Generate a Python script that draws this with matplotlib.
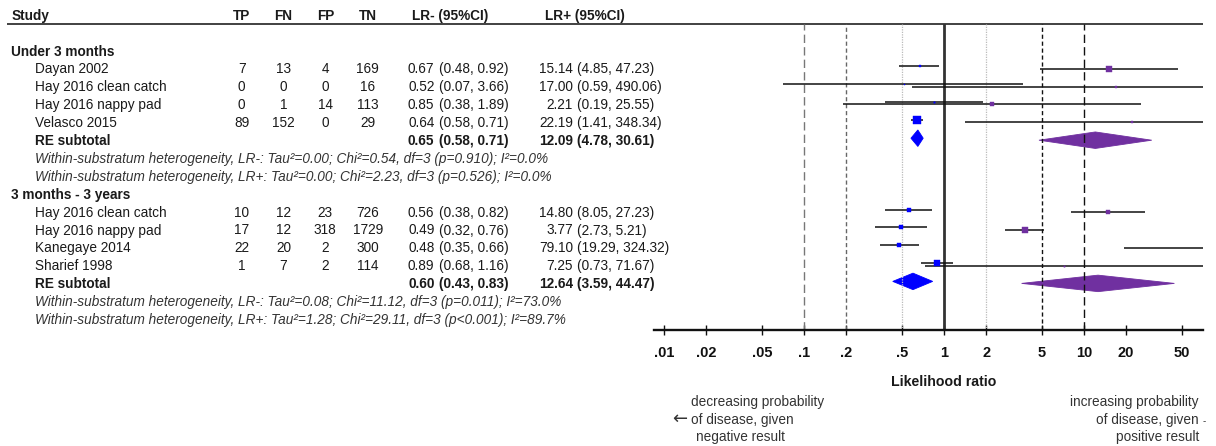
import numpy as np
import matplotlib
matplotlib.use("Agg")
import matplotlib.pyplot as plt
from matplotlib.patches import Polygon

plt.rcParams['font.family'] = ['Liberation Sans', 'DejaVu Sans']

# ---------------------------------------------------------------- data
group_names = ["Under 3 months", "3 months - 3 years"]

studies_u3 = ["Dayan 2002", "Hay 2016 clean catch", "Hay 2016 nappy pad", "Velasco 2015"]
tp_u3 = [7, 0, 0, 89]
fn_u3 = [13, 0, 1, 152]
fp_u3 = [4, 0, 14, 0]
tn_u3 = [169, 16, 113, 29]
lrneg_u3 = [0.67, 0.52, 0.85, 0.64]
lrneg_lo_u3 = [0.48, 0.07, 0.38, 0.58]
lrneg_hi_u3 = [0.92, 3.66, 1.89, 0.71]
lrpos_u3 = [15.14, 17.00, 2.21, 22.19]
lrpos_lo_u3 = [4.85, 0.59, 0.19, 1.41]
lrpos_hi_u3 = [47.23, 490.06, 25.55, 348.34]
sub_lrneg_u3 = [0.65, 0.58, 0.71]
sub_lrpos_u3 = [12.09, 4.78, 30.61]
het_u3 = ["Within-substratum heterogeneity, LR-: Tau\u00b2=0.00; Chi\u00b2=0.54, df=3 (p=0.910); I\u00b2=0.0%",
          "Within-substratum heterogeneity, LR+: Tau\u00b2=0.00; Chi\u00b2=2.23, df=3 (p=0.526); I\u00b2=0.0%"]

studies_3m = ["Hay 2016 clean catch", "Hay 2016 nappy pad", "Kanegaye 2014", "Sharief 1998"]
tp_3m = [10, 17, 22, 1]
fn_3m = [12, 12, 20, 7]
fp_3m = [23, 318, 2, 2]
tn_3m = [726, 1729, 300, 114]
lrneg_3m = [0.56, 0.49, 0.48, 0.89]
lrneg_lo_3m = [0.38, 0.32, 0.35, 0.68]
lrneg_hi_3m = [0.82, 0.76, 0.66, 1.16]
lrpos_3m = [14.80, 3.77, 79.10, 7.25]
lrpos_lo_3m = [8.05, 2.73, 19.29, 0.73]
lrpos_hi_3m = [27.23, 5.21, 324.32, 71.67]
sub_lrneg_3m = [0.60, 0.43, 0.83]
sub_lrpos_3m = [12.64, 3.59, 44.47]
het_3m = ["Within-substratum heterogeneity, LR-: Tau\u00b2=0.08; Chi\u00b2=11.12, df=3 (p=0.011); I\u00b2=73.0%",
          "Within-substratum heterogeneity, LR+: Tau\u00b2=1.28; Chi\u00b2=29.11, df=3 (p<0.001); I\u00b2=89.7%"]

tick_values = [0.01, 0.02, 0.05, 0.1, 0.2, 0.5, 1, 2, 5, 10, 20, 50]
tick_labels = [".01", ".02", ".05", ".1", ".2", ".5", "1", "2", "5", "10", "20", "50"]

groups = [
    dict(name=group_names[0], studies=studies_u3, tp=tp_u3, fn=fn_u3, fp=fp_u3, tn=tn_u3,
         neg=(lrneg_u3, lrneg_lo_u3, lrneg_hi_u3), pos=(lrpos_u3, lrpos_lo_u3, lrpos_hi_u3),
         sub_neg=sub_lrneg_u3, sub_pos=sub_lrpos_u3, het=het_u3),
    dict(name=group_names[1], studies=studies_3m, tp=tp_3m, fn=fn_3m, fp=fp_3m, tn=tn_3m,
         neg=(lrneg_3m, lrneg_lo_3m, lrneg_hi_3m), pos=(lrpos_3m, lrpos_lo_3m, lrpos_hi_3m),
         sub_neg=sub_lrneg_3m, sub_pos=sub_lrpos_3m, het=het_3m),
]

# ---------------------------------------------------------------- layout
W, H, DPI = 1216, 446, 100
FS = 9.8
TXT = "#1a1a1a"
BLUE = "#0000FF"
PURPLE = "#7030A0"

fig = plt.figure(figsize=(W / DPI, H / DPI), dpi=DPI)
fig.patch.set_facecolor("white")

# text layer in pixel units
tax = fig.add_axes([0, 0, 1, 1])
tax.set_xlim(0, W)
tax.set_ylim(H, 0)
tax.axis("off")

# forest plot panel
px_left, px_right, px_top, px_bottom = 654, 1203, 24, 330
px_one, px_decade = 944, 139.8
ax = fig.add_axes([px_left / W, (H - px_bottom) / H,
                   (px_right - px_left) / W, (px_bottom - px_top) / H])
ax.patch.set_alpha(0)
ax.set_xscale("log")
ax.set_xlim(10 ** ((px_left - px_one) / px_decade), 10 ** ((px_right - px_one) / px_decade))
ax.set_ylim(px_bottom, px_top)
for s in ["top", "left", "right"]:
    ax.spines[s].set_visible(False)
ax.spines["bottom"].set_linewidth(1.7)
ax.spines["bottom"].set_color("#111111")
ax.set_yticks([])
ax.set_xticks(tick_values)
ax.set_xticklabels(tick_labels, fontweight="heavy", fontsize=10.5)
ax.xaxis.set_minor_locator(matplotlib.ticker.NullLocator())
ax.tick_params(axis="x", direction="inout", length=7, width=1.0, pad=8, colors="#111111")

# reference lines
ax.axvline(0.1, color="#777777", lw=1.0, ls=(0, (6, 3)))
ax.axvline(0.2, color="#666666", lw=1.0, ls=(0, (3, 2)))
ax.axvline(0.5, color="#bbbbbb", lw=0.9, ls=(0, (1, 1)))
ax.axvline(1, color="#333333", lw=2.0)
ax.axvline(2, color="#bbbbbb", lw=0.9, ls=(0, (1, 1)))
ax.axvline(5, color="#111111", lw=1.0, ls=(0, (3, 2)))
ax.axvline(10, color="#111111", lw=1.0, ls=(0, (6, 3)))

# header
tax.plot([7, px_right], [23.7, 23.7], color="#333333", lw=1.3, solid_capstyle="butt")
hy = 15 + 4.8
tax.text(11.5, hy, "Study", fontweight="bold", fontsize=FS, color=TXT, va="baseline")
for x, lab in zip([241.7, 283.5, 325.3, 367.8], ["TP", "FN", "FP", "TN"]):
    tax.text(x, hy, lab, fontweight="bold", fontsize=FS, color=TXT, ha="center", va="baseline")
tax.text(450.3, hy, "LR- (95%CI)", fontweight="bold", fontsize=FS, color=TXT, ha="center", va="baseline")
tax.text(585.3, hy, "LR+ (95%CI)", fontweight="bold", fontsize=FS, color=TXT, ha="center", va="baseline")

row0, dy = 50.7, 17.9
BASE = 4.8


def fe_weights(lo, hi):
    se = (np.log(np.array(hi)) - np.log(np.array(lo))) / (2 * 1.96)
    w = 1.0 / se ** 2
    return 100 * w / w.sum()


def diamond(est, lo, hi, y, h, color):
    pts = [(lo, y), (est, y - h / 2), (hi, y), (est, y + h / 2)]
    ax.add_patch(Polygon(pts, closed=True, facecolor=color, edgecolor=color, lw=0.6))


k = 0
for g in groups:
    y = row0 + dy * k
    tax.text(11, y + BASE, g["name"], fontweight="bold", fontsize=FS, color=TXT, va="baseline")
    k += 1
    neg_est, neg_lo, neg_hi = g["neg"]
    pos_est, pos_lo, pos_hi = g["pos"]
    wneg = fe_weights(neg_lo, neg_hi)
    wpos = fe_weights(pos_lo, pos_hi)
    for i, name in enumerate(g["studies"]):
        y = row0 + dy * k
        tb = y + BASE
        tax.text(35, tb, name, fontsize=FS, color=TXT, va="baseline")
        for x, v in zip([241.7, 283.5, 325.3, 367.8],
                        [g["tp"][i], g["fn"][i], g["fp"][i], g["tn"][i]]):
            tax.text(x, tb, str(v), fontsize=FS, color=TXT, ha="center", va="baseline")
        tax.text(434.5, tb, f"{neg_est[i]:.2f}", fontsize=FS, color=TXT, ha="right", va="baseline")
        tax.text(438.6, tb, f"({neg_lo[i]:.2f}, {neg_hi[i]:.2f})", fontsize=FS, color=TXT, va="baseline")
        tax.text(573, tb, f"{pos_est[i]:.2f}", fontsize=FS, color=TXT, ha="right", va="baseline")
        tax.text(577, tb, f"({pos_lo[i]:.2f}, {pos_hi[i]:.2f})", fontsize=FS, color=TXT, va="baseline")

        yn, yp = y - 2.3, y
        ax.hlines(yn, neg_lo[i], neg_hi[i], color="#111111", lw=1.1)
        ax.hlines(yp, pos_lo[i], pos_hi[i], color="#111111", lw=1.1)
        sn = max(1.0, 0.5 + 0.75 * np.sqrt(wneg[i]))
        sp = max(1.0, 0.5 + 0.7 * np.sqrt(wpos[i]))
        ax.plot(neg_est[i], yn, marker="s", ms=sn * 0.72, color=BLUE, mec=BLUE, mew=0.3, zorder=4)
        ax.plot(pos_est[i], yp, marker="s", ms=sp * 0.72, color=PURPLE, mec=PURPLE, mew=0.3, zorder=4)
        k += 1

    # pooled estimates
    y = row0 + dy * k
    tb = y + BASE
    tax.text(35, tb, "RE subtotal", fontweight="bold", fontsize=FS, color=TXT, va="baseline")
    sn, sp = g["sub_neg"], g["sub_pos"]
    tax.text(434.5, tb, f"{sn[0]:.2f}", fontweight="bold", fontsize=FS, color=TXT, ha="right", va="baseline")
    tax.text(438.6, tb, f"({sn[1]:.2f}, {sn[2]:.2f})", fontweight="bold", fontsize=FS, color=TXT, va="baseline")
    tax.text(573, tb, f"{sp[0]:.2f}", fontweight="bold", fontsize=FS, color=TXT, ha="right", va="baseline")
    tax.text(577, tb, f"({sp[1]:.2f}, {sp[2]:.2f})", fontweight="bold", fontsize=FS, color=TXT, va="baseline")
    diamond(sn[0], sn[1], sn[2], y - 2, 16.5, BLUE)
    diamond(sp[0], sp[1], sp[2], y, 16.5, PURPLE)
    k += 1

    for line in g["het"]:
        y = row0 + dy * k
        tax.text(35, y + BASE, line, fontsize=FS, style="italic", color="#333333", va="baseline")
        k += 1

# axis title and direction notes
tax.text(943.5, 381 + 5, "Likelihood ratio", fontweight="bold", fontsize=10.2, color=TXT,
         ha="center", va="baseline")
NOTE = "#333333"
for yy, s, x in [(401, "decreasing probability", 691), (419, "of disease, given", 691),
                 (436.7, "negative result", 695.6)]:
    tax.text(x, yy + BASE, s, fontsize=FS, color=NOTE, va="baseline")
tax.text(687, 419, "\u2190", fontsize=13, color=NOTE, ha="right", va="center",
         family=["DejaVu Sans"])
for yy, s in [(401, "increasing probability"), (419, "of disease, given"), (436.7, "positive result")]:
    tax.text(1199, yy + BASE, s, fontsize=FS, color=NOTE, ha="right", va="baseline")
tax.text(1203, 419 + BASE, "-", fontsize=7, color=NOTE, va="baseline")

fig.savefig("out.png", dpi=DPI)
